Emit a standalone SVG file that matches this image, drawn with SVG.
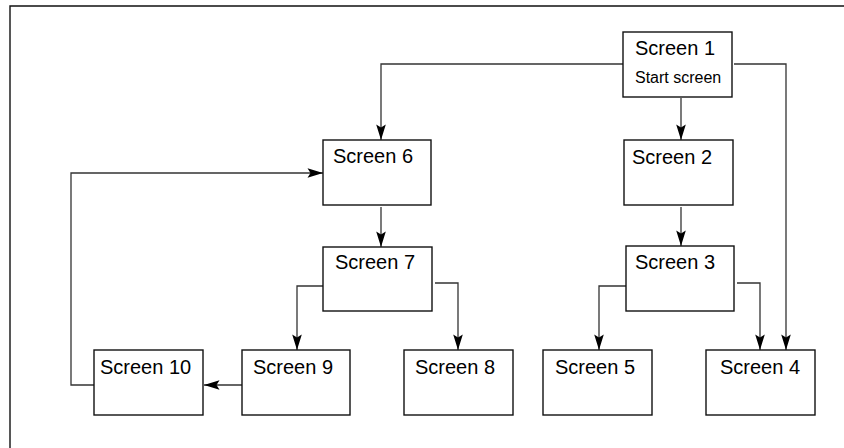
<svg xmlns="http://www.w3.org/2000/svg" width="844" height="448" viewBox="0 0 844 448">
<defs>
<style>
.box{fill:#fff;stroke:#111;stroke-width:1.4}
.t{font-family:"Liberation Sans",Arial,sans-serif;font-size:20px;fill:#000}
.s{font-family:"Liberation Sans",Arial,sans-serif;font-size:16px;fill:#000}
.c{fill:none;stroke:#333;stroke-width:1.3}
</style>
<marker id="ah" markerUnits="userSpaceOnUse" markerWidth="18" markerHeight="12" viewBox="-17 -6 18 12" refX="0" refY="0" orient="auto">
<path d="M0,0 L-15.5,-4.8 L-12.5,0 L-15.5,4.8 Z" fill="#000"/>
</marker>
</defs>
<rect width="844" height="448" fill="#fff"/>
<path d="M10,460 V6 H860" fill="none" stroke="#111" stroke-width="1.4"/>
<g id="connectors">
<path class="c" d="M623,64 H381 V140" marker-end="url(#ah)"/>
<path class="c" d="M681,98 V140" marker-end="url(#ah)"/>
<path class="c" d="M734,64 H786 V350" marker-end="url(#ah)"/>
<path class="c" d="M681,207 V246" marker-end="url(#ah)"/>
<path class="c" d="M626,286 H599 V350" marker-end="url(#ah)"/>
<path class="c" d="M737,283 H760 V350" marker-end="url(#ah)"/>
<path class="c" d="M381,207 V247" marker-end="url(#ah)"/>
<path class="c" d="M323,286 H297 V350" marker-end="url(#ah)"/>
<path class="c" d="M435,283 H458 V350" marker-end="url(#ah)"/>
<path class="c" d="M242,385 H204" marker-end="url(#ah)"/>
<path class="c" d="M94,385 H71 V173 H323" marker-end="url(#ah)"/>
</g>
<g id="screen1"><rect class="box" x="623" y="32" width="109" height="65"/><text class="t" x="635" y="55">Screen 1</text><text class="s" x="635" y="83">Start screen</text></g>
<g id="screen6"><rect class="box" x="323" y="140" width="108" height="65"/><text class="t" x="333" y="163">Screen 6</text></g>
<g id="screen2"><rect class="box" x="624" y="140" width="109" height="65"/><text class="t" x="632" y="164">Screen 2</text></g>
<g id="screen7"><rect class="box" x="323" y="247" width="109" height="64"/><text class="t" x="335" y="269">Screen 7</text></g>
<g id="screen3"><rect class="box" x="626" y="246" width="108" height="65"/><text class="t" x="635" y="269">Screen 3</text></g>
<g id="screen10"><rect class="box" x="94" y="350" width="109" height="65"/><text class="t" x="100" y="374">Screen 10</text></g>
<g id="screen9"><rect class="box" x="242" y="350" width="108" height="65"/><text class="t" x="253" y="374">Screen 9</text></g>
<g id="screen8"><rect class="box" x="404" y="350" width="109" height="65"/><text class="t" x="415" y="374">Screen 8</text></g>
<g id="screen5"><rect class="box" x="543" y="350" width="109" height="65"/><text class="t" x="555" y="374">Screen 5</text></g>
<g id="screen4"><rect class="box" x="706" y="350" width="109" height="65"/><text class="t" x="720" y="374">Screen 4</text></g>
</svg>
